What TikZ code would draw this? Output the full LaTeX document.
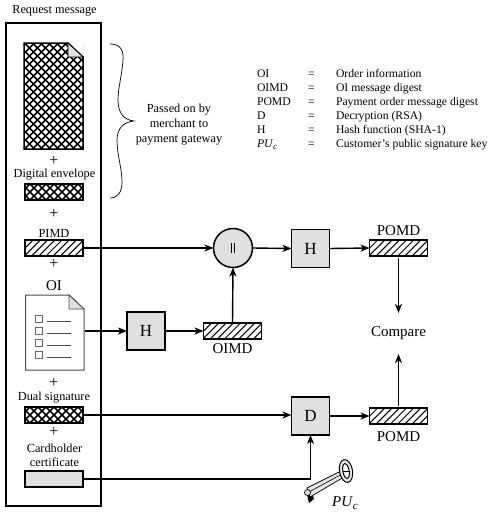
\documentclass[tikz,border=0pt]{standalone}
\usepackage{fontspec}
\setmainfont{Liberation Serif}
\usetikzlibrary{arrows.meta}
\newcommand{\crossfill}{%
  \fill[white] (path picture bounding box.south west) rectangle (path picture bounding box.north east);
  \foreach \k in {-30,...,30}{
    \draw[black,line width=1.6pt] ([xshift=\k*8pt]path picture bounding box.center) ++(-130pt,-130pt) -- ++(260pt,260pt);
    \draw[black,line width=1.6pt] ([xshift=\k*8pt]path picture bounding box.center) ++(-130pt,130pt) -- ++(260pt,-260pt);}}
\newcommand{\diagfill}{%
  \foreach \k in {-12,...,12}{
    \draw[black,line width=1pt] ([xshift=\k*7.2pt]path picture bounding box.center) ++(-30pt,-30pt) -- ++(60pt,60pt);}}
\tikzset{
  x=1pt,y=-1pt,
  every node/.style={inner sep=0pt,outer sep=0pt,font=\fontsize{12.3}{14}\selectfont},
  big/.style={font=\fontsize{15}{17}\selectfont},
  plus/.style={font=\fontsize{16}{17}\selectfont},
  frame/.style={draw=black,line width=1.4pt},
  hatchbar/.style={draw=black,line width=1.5pt,minimum width=58pt,minimum height=16pt,path picture={\diagfill}},
  crossbar/.style={draw=black,line width=1.5pt,minimum width=58pt,minimum height=16pt,path picture={\crossfill}},
  graybar/.style={draw=black,line width=1.5pt,fill=black!12,minimum width=58pt,minimum height=16pt},
  fnbox/.style={draw=black,line width=1.5pt,fill=black!12,minimum width=38pt,minimum height=38pt,font=\fontsize{17}{19}\selectfont},
  conn/.style={line width=1.4pt,-{Stealth[length=9pt,width=7pt,inset=2.5pt]}},
  legend/.style={anchor=base west,font=\fontsize{11.7}{14}\selectfont},
}
\begin{document}
\begin{tikzpicture}
\useasboundingbox (0,0) rectangle (500,514);
\fill[white] (0,0) rectangle (500,514);
% outer frame
\node[frame,minimum width=95pt,minimum height=483pt] (msg) at (53.5,264.5) {};
\node (title) at (54.5,11) {Request message};
% payment document
\node[minimum width=59pt,minimum height=106pt,path picture={\crossfill}] (pdoc) at (53.5,96) {};
\fill[white] (68,43) -- (83,43) -- (83,57) -- cycle;
\draw[black,line width=1.5pt] (24,43) -- (68,43) -- (83,57) -- (83,149) -- (24,149) -- cycle;
\draw[black,line width=0.8pt,fill=black!12] (68,43) -- (68,57) -- (83,57) -- cycle;
\node[plus] (p1) at (54,161) {+};
\node (de) at (54.5,175) {Digital envelope};
\node[crossbar] (env) at (54,192) {};
\node[plus] (p2) at (54,214) {+};
\node (pimdl) at (54,233) {PIMD};
\node[hatchbar] (pimd) at (54,248) {};
\node[plus] (p3) at (54,264) {+};
\node[big] (oil) at (54,286) {OI};
% OI document
\node[minimum width=59pt,minimum height=75pt] (oi) at (55,332.5) {};
\draw[black!70,line width=1pt,fill=white] (25.5,295) -- (69,295) -- (84,309) -- (84,370) -- (25.5,370) -- cycle;
\draw[black!70,line width=0.8pt,fill=black!12] (69,295) -- (69,309) -- (84,309) -- cycle;
\foreach \yy in {319,331,343,355}{
  \draw[black!60,line width=0.6pt] (35.5,\yy-3.5) rectangle (42,\yy+3);
  \draw[black!70,line width=0.7pt] (47,\yy+2) -- (71,\yy+2);}
\node[plus] (p4) at (54,383) {+};
\node (ds) at (54,398) {Dual signature};
\node[crossbar] (dual) at (54,415) {};
\node[plus] (p5) at (54,432) {+};
\node[align=center] (cc) at (54.5,455.5) {Cardholder\\certificate};
\node[graybar] (cert) at (54,479) {};
% brace
\draw[black,line width=0.7pt] (110,44) .. controls (120,44) and (124,50) .. (123,60)
  .. controls (122,75) and (118,88) .. (118,100)
  .. controls (118,113) and (124,120) .. (134,121)
  .. controls (124,122) and (117,128) .. (117,140)
  .. controls (117,155) and (122,168) .. (122,182)
  .. controls (122,192) and (118,198) .. (110,198);
\node[align=center] (passed) at (179,125) {Passed on by\\[1pt]merchant to\\[1pt]payment gateway};
% legend
\node[legend] (a1) at (257,77) {OI};      \node[legend] (b1) at (308,77) {=}; \node[legend] (c1) at (336,77) {Order information};
\node[legend] (a2) at (257,91) {OIMD};    \node[legend] (b2) at (308,91) {=}; \node[legend] (c2) at (336,91) {OI message digest};
\node[legend] (a3) at (257,105) {POMD};   \node[legend] (b3) at (308,105) {=}; \node[legend] (c3) at (336,105) {Payment order message digest};
\node[legend] (a4) at (257,119) {D};      \node[legend] (b4) at (308,119) {=}; \node[legend] (c4) at (336,119) {Decryption (RSA)};
\node[legend] (a5) at (257,133) {H};      \node[legend] (b5) at (308,133) {=}; \node[legend] (c5) at (336,133) {Hash function (SHA-1)};
\node[legend] (a6) at (257,147) {\textit{PU}\raisebox{-2pt}{\fontsize{9}{10}\selectfont\textit{c}}}; \node[legend] (b6) at (308,147) {=}; \node[legend] (c6) at (336,147) {Customer's public signature key};
% flow nodes
\node[circle,draw=black,line width=1.5pt,fill=black!12,minimum size=39pt] (conc) at (233,248) {};
\node (concl) at (233,248) {\rule{0.7pt}{10pt}\hspace{2.5pt}\rule{0.7pt}{10pt}};
\node[fnbox] (h2) at (310.5,248.5) {H};
\node[hatchbar] (pomd1) at (398.5,248) {};
\node[big] (pomdl1) at (398.5,231) {POMD};
\node[fnbox] (h1) at (146,331) {H};
\node[hatchbar] (oimd) at (232.5,331) {};
\node[big] (oimdl) at (232.5,349) {OIMD};
\node[big] (cmp) at (398.5,333) {Compare};
\node[fnbox] (d) at (310.5,416) {D};
\node[hatchbar] (pomd2) at (398.5,416) {};
\node[big] (pomdl2) at (398.5,437) {POMD};
% connectors
\draw[conn] (pimd.east) -- (conc.west);
\draw[conn] (oi.east |- h1.west) -- (h1.west);
\draw[conn] (h1.east) -- (oimd.west);
\draw[conn] (oimd.north) -- (conc.south);
\draw[conn] (conc.east) -- (h2.west);
\draw[conn] (h2.east) -- (pomd1.west);
\draw[conn,shorten <=2pt] (pomd1.south) -- (cmp.north |- 0,313);
\draw[conn] (dual.east) -- (dual.east -| d.west);
\draw[conn] (d.east) -- (pomd2.west);
\draw[conn,shorten <=2pt] (pomd2.north) -- (cmp.south |- 0,354);
\draw[conn] (cert.east) -| (d.south);
% key
\fill[black] (307,495) -- (312,492) -- (314,499) -- (309,503) -- cycle;
\draw[black,line width=0.7pt,fill=black!10] (307,488) -- (341,471) -- (344,477) -- (310,497) -- cycle;
\draw[black,line width=0.6pt] (309,492) -- (342,474);
\draw[black,line width=0.7pt,fill=black!10] (307.5,492.5) circle (3);
\draw[black,line width=1pt,fill=black!10,even odd rule,rotate around={10:(346,471)}] (346,471) ellipse (6.5 and 11.5) (346,471) ellipse (3.2 and 7.5);
\draw[black,line width=0.6pt] (342.5,471) -- (349.5,471);
\node[font=\fontsize{15}{17}\selectfont] (puc) at (345,503) {\textit{PU}\raisebox{-3pt}{\fontsize{11}{12}\selectfont\textit{c}}};
\end{tikzpicture}
\end{document}
